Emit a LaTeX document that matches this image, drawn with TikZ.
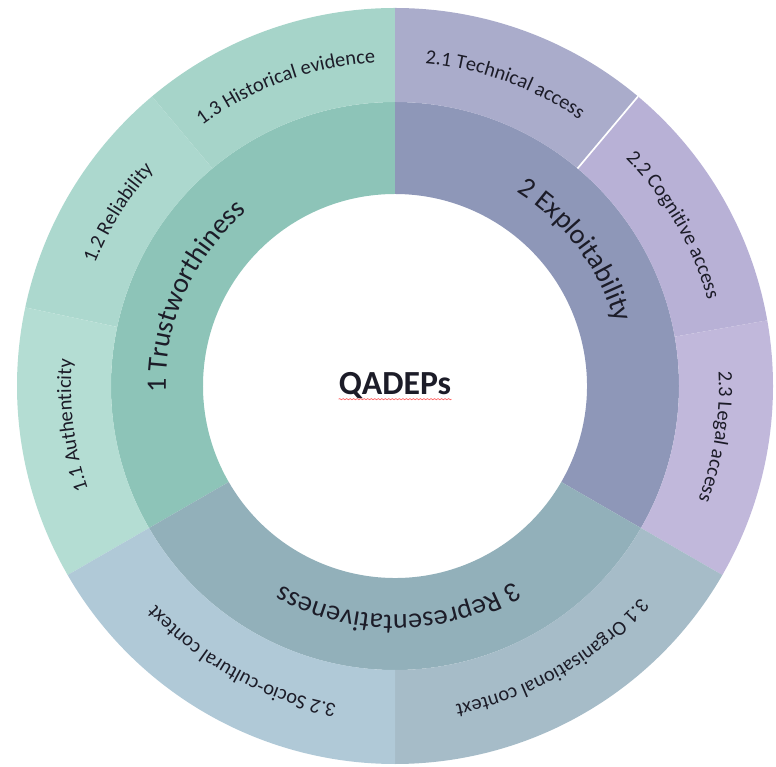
\documentclass[tikz,border=0pt]{standalone}
\usepackage{fontspec}
\setmainfont{Carlito}
\usetikzlibrary{decorations.text}
\usetikzlibrary{decorations.pathmorphing}

\definecolor{trustA}{HTML}{8DC4B8}
\definecolor{trustB}{HTML}{A6D4C9}
\definecolor{trustC}{HTML}{ACD8CE}
\definecolor{trustD}{HTML}{B4DDD3}
\definecolor{explA}{HTML}{8E97B8}
\definecolor{explB}{HTML}{AAACCB}
\definecolor{explC}{HTML}{B8B1D6}
\definecolor{explD}{HTML}{C1B8DB}
\definecolor{reprA}{HTML}{92B0BA}
\definecolor{reprB}{HTML}{A6BCC8}
\definecolor{reprC}{HTML}{B0C9D7}
\definecolor{testo}{HTML}{1C1C28}

\tikzset{
  sublabel/.style={decorate, decoration={text along path, text align=center,
    text color=testo, text={|\fontsize{14.5}{17}\selectfont|#1}}},
  mainlabel/.style={decorate, decoration={text along path, text align=center,
    text color=testo, text={|\fontsize{20}{24}\selectfont|#1}}}
}

\begin{document}
\begin{tikzpicture}
  \useasboundingbox (-9.875,-9.525) rectangle (9.525,9.65);
  % anello interno
  \fill[trustA] (90:4.8) arc[start angle=90, end angle=210, radius=4.8] -- (210:7.1) arc[start angle=210, end angle=90, radius=7.1] -- cycle;
  \fill[explA] (-30:4.8) arc[start angle=-30, end angle=90, radius=4.8] -- (90:7.1) arc[start angle=90, end angle=-30, radius=7.1] -- cycle;
  \fill[reprA] (210:4.8) arc[start angle=210, end angle=330, radius=4.8] -- (330:7.1) arc[start angle=330, end angle=210, radius=7.1] -- cycle;
  % anello esterno
  \fill[trustB] (90:7.1) arc[start angle=90, end angle=130, radius=7.1] -- (130:9.45) arc[start angle=130, end angle=90, radius=9.45] -- cycle;
  \fill[trustC] (130:7.1) arc[start angle=130, end angle=168, radius=7.1] -- (168:9.45) arc[start angle=168, end angle=130, radius=9.45] -- cycle;
  \fill[trustD] (168:7.1) arc[start angle=168, end angle=210, radius=7.1] -- (210:9.45) arc[start angle=210, end angle=168, radius=9.45] -- cycle;
  \fill[explB] (50:7.1) arc[start angle=50, end angle=90, radius=7.1] -- (90:9.45) arc[start angle=90, end angle=50, radius=9.45] -- cycle;
  \fill[explC] (10:7.1) arc[start angle=10, end angle=50, radius=7.1] -- (50:9.45) arc[start angle=50, end angle=10, radius=9.45] -- cycle;
  \fill[explD] (-30:7.1) arc[start angle=-30, end angle=10, radius=7.1] -- (10:9.45) arc[start angle=10, end angle=-30, radius=9.45] -- cycle;
  \fill[reprB] (270:7.1) arc[start angle=270, end angle=330, radius=7.1] -- (330:9.45) arc[start angle=330, end angle=270, radius=9.45] -- cycle;
  \fill[reprC] (210:7.1) arc[start angle=210, end angle=270, radius=7.1] -- (270:9.45) arc[start angle=270, end angle=210, radius=9.45] -- cycle;
  \draw[white, line width=1.2pt] (50:7.1) -- (50:9.45);

  % etichette lungo gli archi
  \path[mainlabel={1 Trustworthiness}] (206:5.725) arc[start angle=206, end angle=106, radius=5.725];
  \path[mainlabel={2 Exploitability}] (87:5.725) arc[start angle=87, end angle=-13, radius=5.725];
  \path[mainlabel={3 Representativeness}] (321:5.725) arc[start angle=321, end angle=221, radius=5.725];
  \path[sublabel={1.1 Authenticity}] (237:8.1) arc[start angle=237, end angle=137, radius=8.1];
  \path[sublabel={1.2 Reliability}] (198:8.1) arc[start angle=198, end angle=98, radius=8.1];
  \path[sublabel={1.3 Historical evidence}] (160:8.1) arc[start angle=160, end angle=60, radius=8.1];
  \path[sublabel={2.1 Technical access}] (120:8.1) arc[start angle=120, end angle=20, radius=8.1];
  \path[sublabel={2.2 Cognitive access}] (80:8.1) arc[start angle=80, end angle=-20, radius=8.1];
  \path[sublabel={2.3 Legal access}] (41:8.1) arc[start angle=41, end angle=-59, radius=8.1];
  \path[sublabel={3.1 Organisational context}] (350:8.1) arc[start angle=350, end angle=250, radius=8.1];
  \path[sublabel={3.2 Socio-cultural context}] (291:8.1) arc[start angle=291, end angle=191, radius=8.1];

  \node[inner sep=0pt, text=testo, font=\fontsize{24}{29}\selectfont\bfseries] (qadeps) at (0,0) {QADEPs};
  \draw[red!60, line width=0.5pt, decorate, decoration={snake, amplitude=0.4pt, segment length=2.5pt}]
    ([yshift=-3pt]qadeps.base west) -- ([yshift=-3pt]qadeps.base east);
\end{tikzpicture}
\end{document}
